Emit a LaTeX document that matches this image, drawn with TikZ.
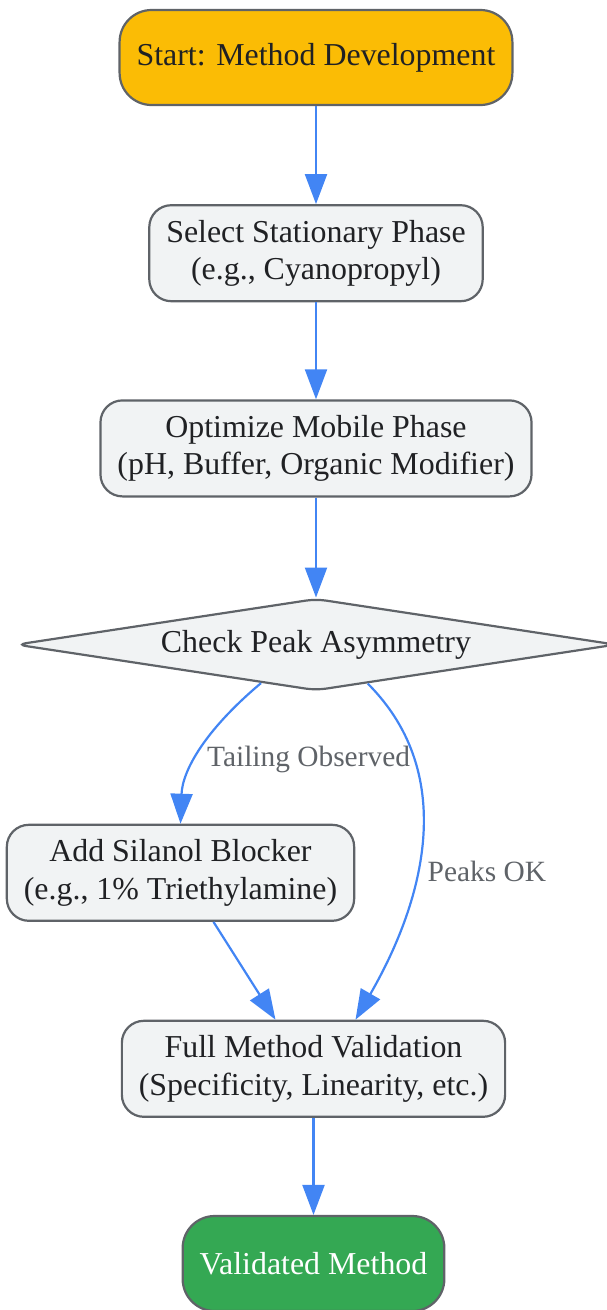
\documentclass[tikz,border=0pt]{standalone}
\usepackage{fontspec}
\setmainfont{Liberation Serif}
\usepackage{tikz}
\usetikzlibrary{positioning,arrows.meta,shapes.geometric}
\usepackage{xcolor}
\definecolor{startfill}{HTML}{FBBC05}
\definecolor{endfill}{HTML}{34A853}
\definecolor{procfill}{HTML}{F1F3F4}
\definecolor{edgegray}{HTML}{5F6368}
\definecolor{flowblue}{HTML}{4285F4}
\definecolor{inkdark}{HTML}{202124}

\begin{document}
\begin{tikzpicture}[
    block/.style={draw=edgegray, line width=2.2pt, fill=procfill, rounded corners=22pt, align=center,
        minimum height=96pt, inner xsep=17pt, text=inkdark, font=\fontsize{31.9}{37.5}\selectfont},
    terminal/.style={block, rounded corners=32pt, minimum height=95pt},
    decision/.style={diamond, draw=edgegray, line width=2.2pt, fill=procfill, rounded corners=10pt,
        aspect=6.5, minimum width=600pt, minimum height=92pt, inner sep=0pt, text=inkdark,
        font=\fontsize{31.9}{37.5}\selectfont},
    arrow/.style={-{Triangle[length=30pt, width=22pt]}, line width=2.2pt, flowblue},
    lbl/.style={text=edgegray, inner sep=4pt, font=\fontsize{29.4}{34}\selectfont}
]
\useasboundingbox (0pt,0pt) rectangle (607pt,-1310pt);

% Nodes
\node[terminal, fill=startfill] (start) at (316pt,-57.5pt) {Start: Method Development};
\node[block, below=98pt of start] (select) {Select Stationary Phase\\(e.g., Cyanopropyl)};
\node[block, below=97pt of select] (optimize) {Optimize Mobile Phase\\(pH, Buffer, Organic Modifier)};
\node[decision, below=100pt of optimize] (check) {Check Peak Asymmetry};
\node[block, below=132pt of check, xshift=-135.5pt] (add) {Add Silanol Blocker\\(e.g., 1\% Triethylamine)};
\node[block, below=328pt of check, xshift=-2.5pt] (full) {Full Method Validation\\(Specificity, Linearity, etc.)};
\node[terminal, fill=endfill, text=white, below=97pt of full] (valid) {Validated Method};

% Arrows
\draw[arrow] (start) -- (select);
\draw[arrow] (select) -- (optimize);
\draw[arrow] (optimize) -- (check);
\draw[arrow] (check.215) to[out=-140, in=88, out looseness=1.16, in looseness=0.84]
    node[lbl, right=6pt, pos=0.56]{Tailing Observed} (add.north);
\draw[arrow] (check.323) to[out=-45, in=60]
    node[lbl, right=6pt, pos=0.58]{Peaks OK} ([xshift=42pt]full.north);
\draw[arrow] ([xshift=33pt]add.south) -- ([xshift=-38pt]full.north);
\draw[arrow] (full) -- (valid);
\end{tikzpicture}
\end{document}
